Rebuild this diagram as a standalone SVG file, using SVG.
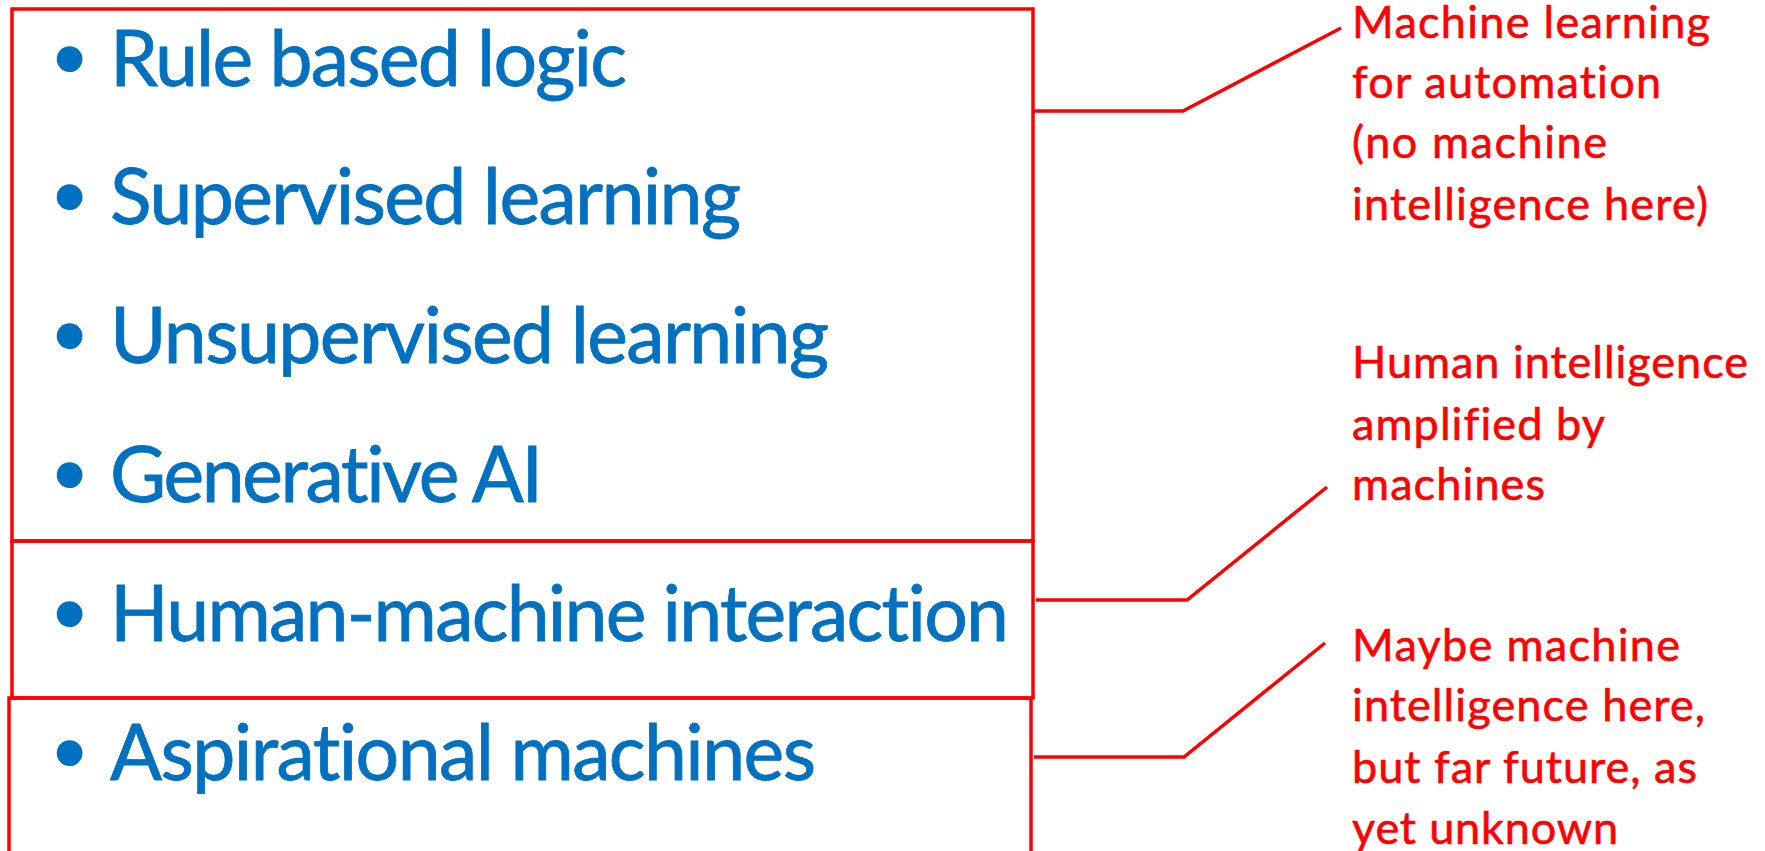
<svg xmlns="http://www.w3.org/2000/svg" width="1765" height="851" viewBox="0 0 1765 851">
<style>
.box{fill:none;stroke:#FF0000;stroke-width:3.5}
.conn{fill:none;stroke:#FF0000;stroke-width:3.5;stroke-linejoin:miter}
.item{font-family:Lato,"Liberation Sans",sans-serif;font-size:77px;fill:#0070C0;stroke:#0070C0;stroke-width:0.8;font-variant-ligatures:none;font-feature-settings:"liga" 0,"clig" 0}
.bul{font-family:"Liberation Sans",Arial,sans-serif;font-size:95px;fill:#0070C0;stroke:none}
.note{font-family:Lato,"Liberation Sans",sans-serif;font-size:45px;fill:#FF0000;stroke:#FF0000;stroke-width:0.6;font-variant-ligatures:none;font-feature-settings:"liga" 0,"clig" 0}
</style>
<rect width="1765" height="851" fill="#FFFFFF"/>
<g id="box-automation">
<rect class="box" x="12" y="9" width="1021" height="532"/>
<text class="item"><tspan class="bul" x="53" y="91">•</tspan><tspan x="110" y="86" textLength="517" lengthAdjust="spacing">Rule based logic</tspan></text>
<text class="item"><tspan class="bul" x="53" y="229">•</tspan><tspan x="110" y="224" textLength="631" lengthAdjust="spacing">Supervised learning</tspan></text>
<text class="item"><tspan class="bul" x="53" y="368">•</tspan><tspan x="110" y="363" textLength="719" lengthAdjust="spacing">Unsupervised learning</tspan></text>
<text class="item"><tspan class="bul" x="53" y="507">•</tspan><tspan x="110" y="502" textLength="433" lengthAdjust="spacing">Generative AI</tspan></text>
</g>
<g id="box-interaction">
<rect class="box" x="12" y="541" width="1021" height="157"/>
<text class="item"><tspan class="bul" x="53" y="646">•</tspan><tspan x="110" y="641" textLength="899" lengthAdjust="spacing">Human-machine interaction</tspan></text>
</g>
<g id="box-aspirational">
<rect class="box" x="9" y="698" width="1022" height="200"/>
<text class="item"><tspan class="bul" x="53" y="785">•</tspan><tspan x="110" y="780" textLength="706" lengthAdjust="spacing">Aspirational machines</tspan></text>
</g>
<g id="connectors">
<polyline class="conn" points="1034,111 1183,111 1341,28"/>
<polyline class="conn" points="1036,600 1187,600 1327,487"/>
<polyline class="conn" points="1034,757 1184,757 1325,643"/>
</g>
<g id="note-automation">
<text class="note" x="1352" y="38" textLength="358" lengthAdjust="spacing">Machine learning</text>
<text class="note" x="1352" y="98" textLength="309" lengthAdjust="spacing">for automation</text>
<text class="note" x="1352" y="158" textLength="255" lengthAdjust="spacing">(no machine</text>
<text class="note" x="1352" y="220" textLength="356" lengthAdjust="spacing">intelligence here)</text>
</g>
<g id="note-amplified">
<text class="note" x="1352" y="378" textLength="396" lengthAdjust="spacing">Human intelligence</text>
<text class="note" x="1352" y="440" textLength="253" lengthAdjust="spacing">amplified by</text>
<text class="note" x="1352" y="500" textLength="193" lengthAdjust="spacing">machines</text>
</g>
<g id="note-future">
<text class="note" x="1352" y="661" textLength="328" lengthAdjust="spacing">Maybe machine</text>
<text class="note" x="1352" y="721" textLength="353" lengthAdjust="spacing">intelligence here,</text>
<text class="note" x="1352" y="783" textLength="345" lengthAdjust="spacing">but far future, as</text>
<text class="note" x="1352" y="844" textLength="266" lengthAdjust="spacing">yet unknown</text>
</g>
</svg>
